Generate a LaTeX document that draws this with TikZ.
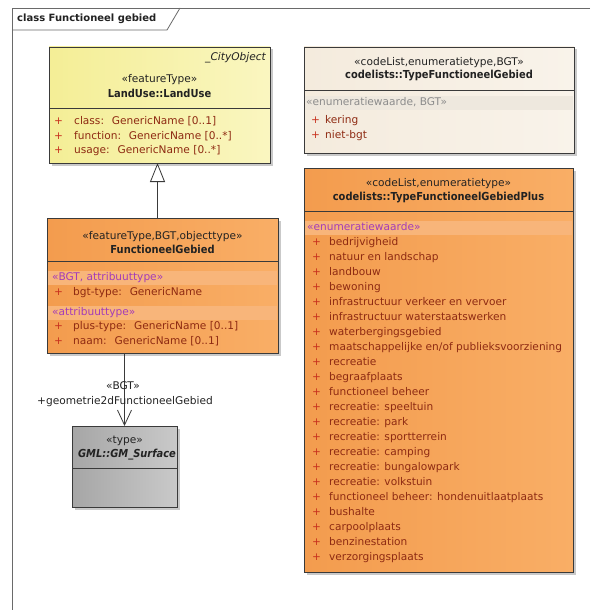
\documentclass[tikz,border=0pt]{standalone}
\usepackage{fontspec}
\setmainfont{DejaVu Sans}
\newfontfamily\namefont[FakeStretch=0.9]{DejaVu Sans}
\usetikzlibrary{arrows.meta,shadows,calc}
\definecolor{yelL}{HTML}{F4EE96}
\definecolor{yelR}{HTML}{FAF6C0}
\definecolor{orL}{HTML}{F39C4E}
\definecolor{orR}{HTML}{F9AE66}
\definecolor{orband}{HTML}{F8B57A}
\definecolor{beL}{HTML}{F4EBDD}
\definecolor{beR}{HTML}{F9F3EA}
\definecolor{beband}{HTML}{EEE8DE}
\definecolor{grL}{HTML}{A6A6A6}
\definecolor{grR}{HTML}{C9C9C9}
\definecolor{edge}{HTML}{3A3A3A}
\definecolor{attrc}{HTML}{8E2A12}
\definecolor{plusc}{HTML}{C8321E}
\definecolor{purp}{HTML}{A33CB8}
\definecolor{greyst}{HTML}{8C8C8C}
\definecolor{txt}{HTML}{222222}
\definecolor{framec}{HTML}{6A6A6A}
\begin{document}
\begin{tikzpicture}[x=1pt,y=-1pt,
  font=\fontsize{10.6}{12}\selectfont,
  umlbox/.style={draw=edge, line width=0.8pt, inner sep=0pt, outer sep=0pt, anchor=north west,
    drop shadow={shadow xshift=2.5pt, shadow yshift=-2.5pt, fill=black!35, opacity=0.6}},
  sep/.style={draw=edge, line width=0.8pt},
  txtn/.style={inner sep=0pt, text=txt},
  stereo/.style={txtn, anchor=mid},
  cname/.style={txtn, anchor=mid, font=\namefont\fontsize{11}{12}\selectfont\bfseries},
  plus/.style={inner sep=0pt, anchor=mid west, text=plusc},
  attr/.style={inner sep=0pt, anchor=mid west, text=attrc},
  pst/.style={inner sep=0pt, anchor=mid west, text=purp},
  gst/.style={inner sep=0pt, anchor=mid west, text=greyst},
]
\useasboundingbox (0,0) rectangle (590,610);
\fill[white] (0,0) rectangle (590,610);

% frame
\draw[framec, line width=0.8pt] (590,8) -- (12,8) -- (12,610);
\draw[framec, line width=0.8pt] (12,30) -- (167,30) -- (180,8);
\node[txtn, anchor=mid west, font=\fontsize{10}{12}\selectfont\bfseries] (ftitle) at (17,19) {class Functioneel gebied};

% LandUse
\node[umlbox, left color=yelL, right color=yelR, minimum width=221pt, minimum height=116pt] (lu) at (49,47) {};
\draw[sep] (49,108) -- (270,108);
\node[txtn, anchor=mid east, font=\fontsize{10.6}{12}\selectfont\itshape] (luabs) at (266,58) {\_CityObject};
\node[stereo] (lust) at (159.5,80) {«featureType»};
\node[cname] (luname) at (159.5,95) {LandUse::LandUse};
\foreach \y/\a/\n in {122/a/{class:~ GenericName [0..1]},137/b/{function:~ GenericName [0..*]},151/c/{usage:~ GenericName [0..*]}}{
  \node[plus] (lup\a) at (54,\y) {+};
  \node[attr] (lua\a) at (74,\y) {\n};
}

% FunctioneelGebied
\node[umlbox, left color=orL, right color=orR, minimum width=231pt, minimum height=135pt] (fg) at (47,218) {};
\draw[sep] (47,261) -- (278,261);
\fill[orband] (48,271) rectangle (277,285);
\fill[orband] (48,306) rectangle (277,320);
\node[stereo] (fgst) at (162.5,237) {«featureType,BGT,objecttype»};
\node[cname] (fgname) at (162.5,251) {FunctioneelGebied};
\node[pst] (fgs1) at (52,278) {«BGT, attribuuttype»};
\node[plus] (fgp1) at (54,293) {+};
\node[attr] (fga1) at (73,293) {bgt-type:~ GenericName};
\node[pst] (fgs2) at (52,313) {«attribuuttype»};
\node[plus] (fgp2) at (54,327) {+};
\node[attr] (fga2) at (73,327) {plus-type:~ GenericName [0..1]};
\node[plus] (fgp3) at (54,342) {+};
\node[attr] (fga3) at (73,342) {naam:~ GenericName [0..1]};

% GM_Surface
\node[umlbox, left color=grL, right color=grR, minimum width=105pt, minimum height=81pt] (gm) at (72,426) {};
\draw[sep] (72,468) -- (177,468);
\node[stereo] (gmst) at (124.5,441) {«type»};
\begin{scope}
\clip (72.5,426) rectangle (176.5,468);
\node[txtn, anchor=mid, font=\namefont\fontsize{11}{12}\selectfont\bfseries\itshape] (gmname) at (127,455) {GML::GM\_Surface};
\end{scope}

% TypeFunctioneelGebied
\node[umlbox, left color=beL, right color=beR, minimum width=270pt, minimum height=106pt] (tf) at (304,47) {};
\draw[sep] (304,90) -- (574,90);
\fill[beband] (305,96) rectangle (573,110);
\node[stereo] (tfst) at (439,63) {«codeList,enumeratietype,BGT»};
\node[cname] (tfname) at (439,76) {codelists::TypeFunctioneelGebied};
\node[gst] (tfs) at (306,103) {«enumeratiewaarde, BGT»};
\node[plus] (tfp1) at (311,121) {+};
\node[attr] (tfa1) at (325,121) {kering};
\node[plus] (tfp2) at (311,136) {+};
\node[attr] (tfa2) at (325,136) {niet-bgt};

% TypeFunctioneelGebiedPlus
\node[umlbox, left color=orL, right color=orR, minimum width=269pt, minimum height=404pt] (tp) at (304,168) {};
\draw[sep] (304,211) -- (573,211);
\fill[orband] (305,221) rectangle (572,235);
\node[stereo] (tpst) at (438.5,184) {«codeList,enumeratietype»};
\node[cname] (tpname) at (438.5,198) {codelists::TypeFunctioneelGebiedPlus};
\node[pst] (tps) at (307,228) {«enumeratiewaarde»};
\foreach \n [count=\i from 0] in {bedrijvigheid,natuur en landschap,landbouw,bewoning,infrastructuur verkeer en vervoer,infrastructuur waterstaatswerken,waterbergingsgebied,maatschappelijke en/of publieksvoorziening,recreatie,begraafplaats,functioneel beheer,recreatie: speeltuin,recreatie: park,recreatie: sportterrein,recreatie: camping,recreatie: bungalowpark,recreatie: volkstuin,functioneel beheer: hondenuitlaatplaats,bushalte,carpoolplaats,benzinestation,verzorgingsplaats}{
  \node[plus] (tpp\i) at (312,243+15*\i) {+};
  \node[attr] (tpa\i) at (329,243+15*\i) {\n};
}

% connectors
\coordinate (gx) at (157.5,0);
\draw[edge, line width=0.8pt, -{Triangle[open, length=19pt, width=15pt, line width=0.8pt]}] (fg.north -| gx) -- (lu.south -| gx);
\coordinate (ax) at (124.5,0);
\draw[edge, line width=0.8pt, -{Straight Barb[length=15pt, width=14pt, line width=0.8pt]}] (fg.south -| ax) -- (gm.north -| ax);
\node[txtn, anchor=mid] (abgt) at (123,387) {«BGT»};
\node[txtn, anchor=mid] (arole) at (125,402) {+geometrie2dFunctioneelGebied};
\end{tikzpicture}
\end{document}
